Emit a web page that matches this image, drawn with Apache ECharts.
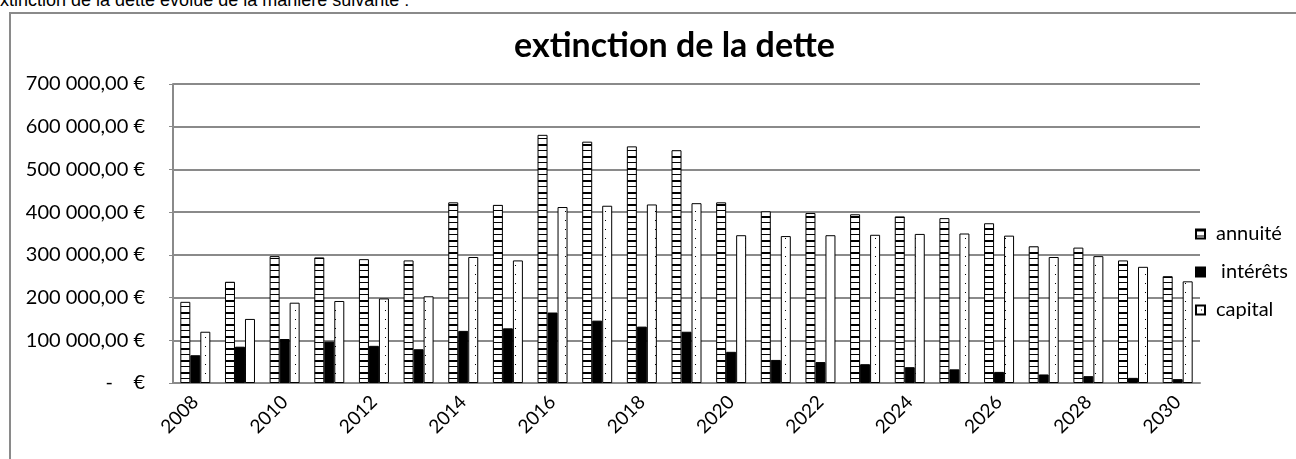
<!DOCTYPE html>
<html>
<head>
<meta charset="utf-8">
<script src="https://cdn.jsdelivr.net/npm/echarts@6/dist/echarts.min.js"></script>
<style>
  html, body { margin: 0; padding: 0; background: #fff; overflow: hidden; }
  .intro {
    position: absolute; left: -10px; top: -9px;
    font-family: "Liberation Sans", Arial, sans-serif; font-size: 18px;
    line-height: 18px; color: #000; white-space: nowrap;
  }
  .frame {
    position: absolute; left: 9px; top: 12px; width: 1400px; height: 480px;
    border: 2px solid #8a8a8a; box-sizing: border-box;
  }
  #chart { position: absolute; left: 0; top: 0; width: 1296px; height: 459px; }
</style>
</head>
<body>
<div class="intro">extinction de la dette évolue de la manière suivante :</div>
<div class="frame"></div>
<div id="chart"></div>
<script>
const years = ['2008', '2009', '2010', '2011', '2012', '2013', '2014', '2015', '2016', '2017', '2018', '2019',
  '2020', '2021', '2022', '2023', '2024', '2025', '2026', '2027', '2028', '2029', '2030'];
const annuite = [190000, 237000, 297000, 294000, 290000, 287000, 423000, 417000, 581000, 565000, 554000, 545000,
  423000, 402000, 398000, 395000, 390000, 386000, 374000, 320000, 317000, 287000, 250000];
const interets = [65000, 85000, 103000, 97000, 87000, 79000, 122000, 128000, 165000, 146000, 132000, 120000,
  73000, 54000, 49000, 44000, 37000, 32000, 26000, 20000, 16000, 12000, 9000];
const capital = [120000, 150000, 188000, 192000, 198000, 203000, 295000, 287000, 412000, 415000, 418000, 421000,
  346000, 344000, 346000, 347000, 349000, 350000, 345000, 295000, 297000, 272000, 238000];
const yTicks = [0, 100000, 200000, 300000, 400000, 500000, 600000, 700000];

// motifs de remplissage (façon Excel)
function stripes() {
  const c = document.createElement('canvas');
  c.width = 10; c.height = 12;
  const g = c.getContext('2d');
  g.fillStyle = '#fff'; g.fillRect(0, 0, 10, 12);
  g.fillStyle = '#000';
  g.fillRect(0, 0, 10, 2);
  g.fillRect(0, 6, 10, 1);
  return c;
}
function dots() {
  const c = document.createElement('canvas');
  c.width = 10; c.height = 9;
  const g = c.getContext('2d');
  g.fillStyle = '#fff'; g.fillRect(0, 0, 10, 9);
  g.fillStyle = '#000';
  g.fillRect(5, 4, 1, 1);
  return c;
}

function fmtEuro(v) {
  if (v === 0) return '-    €';
  const s = String(Math.round(v)).replace(/\B(?=(\d{3})+(?!\d))/g, ' ');
  return s + ',00 €';
}

const font = 'Lato, "Open Sans", sans-serif';
const chart = echarts.init(document.getElementById('chart'));

const option = {
  animation: false,
  title: {
    text: 'extinction de la dette',
    left: 509,
    top: 24,
    textStyle: { fontFamily: font, fontSize: 34, fontWeight: 'bold', color: '#000' }
  },
  legend: {
    orient: 'vertical',
    left: 1190,
    top: 219,
    itemWidth: 9,
    itemHeight: 9,
    itemGap: 18,
    icon: 'rect',
    formatter: function (name) { return name === 'intérêts' ? ' ' + name : name; },
    textStyle: { fontFamily: font, fontSize: 20, color: '#000', padding: [0, 0, 0, 6] },
    data: ['annuité', 'intérêts', 'capital']
  },
  grid: { left: 173, right: 96, top: 84, bottom: 76 },
  xAxis: {
    type: 'category',
    data: years,
    axisLine: { lineStyle: { color: '#8a8a8a', width: 2 } },
    axisTick: { show: false },
    axisLabel: {
      interval: 1,
      rotate: 45,
      margin: 16,
      fontFamily: font,
      fontSize: 19,
      color: '#000'
    }
  },
  yAxis: {
    type: 'value',
    min: 0,
    max: 700000,
    interval: 100000,
    axisLine: { show: true, lineStyle: { color: '#8a8a8a', width: 2 } },
    axisTick: { show: true, length: 4, lineStyle: { color: '#8a8a8a' } },
    splitLine: { lineStyle: { color: '#8a8a8a', width: 2 } },
    axisLabel: {
      margin: 28,
      fontFamily: font,
      fontSize: 20,
      color: '#000',
      customValues: yTicks,
      formatter: fmtEuro
    }
  },
  series: [
    {
      name: 'annuité', type: 'bar', data: annuite, barWidth: 10, barGap: '0%',
      itemStyle: { color: { image: stripes(), repeat: 'repeat' }, borderColor: '#000', borderWidth: 1 }
    },
    {
      name: 'intérêts', type: 'bar', data: interets, barWidth: 10, barGap: '0%',
      itemStyle: { color: '#000', borderColor: '#000', borderWidth: 1 }
    },
    {
      name: 'capital', type: 'bar', data: capital, barWidth: 10, barGap: '0%',
      itemStyle: { color: { image: dots(), repeat: 'repeat' }, borderColor: '#000', borderWidth: 1 }
    }
  ]
};
chart.setOption(option);
</script>
</body>
</html>
